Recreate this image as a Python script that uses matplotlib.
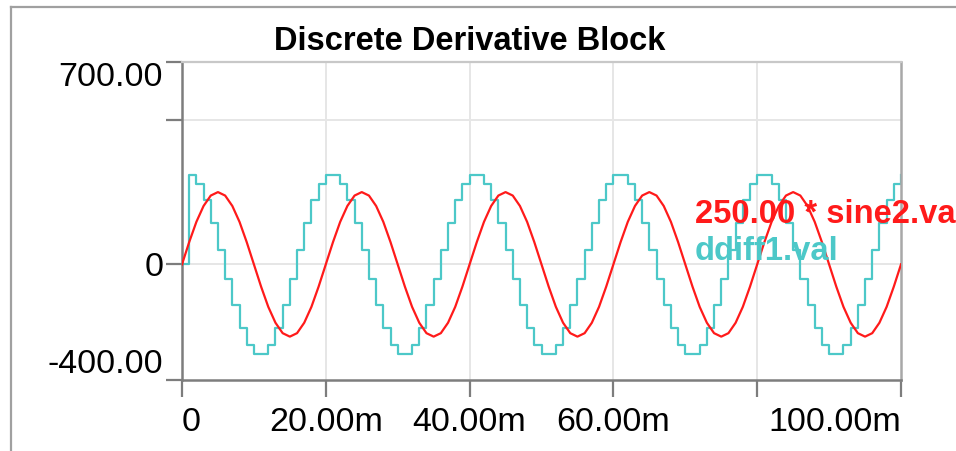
import numpy as np
import matplotlib
matplotlib.use("Agg")
import matplotlib.pyplot as plt
from matplotlib.lines import Line2D

plt.rcParams["font.family"] = ["Liberation Sans", "DejaVu Sans"]

# ---- data -------------------------------------------------------------
sample_ms = 1.0                 # simulation step, milliseconds
n_periods = 5                   # periods shown over 0..100 ms
# 250 * sine2 over one 20 ms period, one value per millisecond
sine_period = [0, 77, 147, 202, 238, 250, 238, 202, 147, 77,
               0, -77, -147, -202, -238, -250, -238, -202, -147, -77]
# ddiff1 step levels, held from t = 1 ms .. 20 ms of each period
ddiff_period = [309, 279, 221, 142, 49, -49, -142, -221, -279, -309,
                -309, -279, -221, -142, -49, 49, 142, 221, 279, 309]
ddiff_initial = 0

x_ticks = [0, 0.02, 0.04, 0.06, 0.08, 0.10]
x_labels = ["0", "20.00m", "40.00m", "60.00m", "", "100.00m"]
y_ticks = [-400, 0, 500, 700]
y_labels = ["-400.00", "0", "", "700.00"]
title = "Discrete Derivative Block"
label_sine = "250.00 * sine2.val"
label_ddiff = "ddiff1.val"

# ---- series assembly --------------------------------------------------
sine_vals = np.array(sine_period * n_periods + [sine_period[0]], dtype=float)
ddiff_vals = np.array([ddiff_initial] + ddiff_period * n_periods, dtype=float)
t = np.arange(len(sine_vals)) * sample_ms / 1000.0

RED = "#ff1a1a"
CYAN = "#4cc8c8"
AXIS = "#7d7d7d"
GRID = "#e6e6e6"

W, H = 956, 451
fig = plt.figure(figsize=(W / 100, H / 100), dpi=100)
fig.patch.set_facecolor("white")

left, right, top, bottom = 182, 901, 62, 380
ax = fig.add_axes([left / W, 1 - bottom / H, (right - left) / W, (bottom - top) / H])

ax.plot(t, sine_vals, color=RED, lw=1.6, zorder=3)
ax.plot(t, ddiff_vals, color=CYAN, lw=1.6, drawstyle="steps-post", zorder=2)

ax.set_xlim(0, 0.1)
ax.set_ylim(-400, 700)

# grid lines
for xv in x_ticks[1:-1]:
    ax.axvline(xv, color=GRID, lw=1.4, zorder=0)
for yv in [0, 500]:
    ax.axhline(yv, color=GRID, lw=1.4, zorder=0)

ax.spines["top"].set_color("#c8c8c8")
ax.spines["top"].set_linewidth(1.6)
ax.spines["right"].set_color("#a8a8a8")
ax.spines["right"].set_linewidth(1.8)
for s in ["left", "bottom"]:
    ax.spines[s].set_color(AXIS)
    ax.spines[s].set_linewidth(1.8)

ax.set_xticks(x_ticks, labels=x_labels)
ax.set_yticks(y_ticks, labels=y_labels)
ax.tick_params(axis="x", length=12.2, width=1.6, color=AXIS, pad=7,
               labelsize=24.5, direction="out")
ax.tick_params(axis="y", length=11.5, width=1.6, color=AXIS, pad=2,
               labelsize=24.5, direction="out")
xl = ax.get_xticklabels()
xl[0].set_horizontalalignment("left")
xl[-1].set_horizontalalignment("right")
yl = ax.get_yticklabels()
yl[0].set_verticalalignment("bottom")
yl[-1].set_verticalalignment("top")

# series labels
fig.text(695 / W, 1 - 223 / H, label_sine, color=RED, fontsize=23.6,
         fontweight="bold", va="baseline", ha="left")
fig.text(695 / W, 1 - 260 / H, label_ddiff, color=CYAN, fontsize=23.6,
         fontweight="bold", va="baseline", ha="left")

# title
fig.text(470 / W, 1 - 50 / H, title, fontsize=23.5, fontweight="bold",
         va="baseline", ha="center", color="black")

# outer frame
fig.add_artist(Line2D([11 / W, 11 / W], [0, 1 - 7 / H], transform=fig.transFigure,
                      color="#a0a0a0", lw=1.6))
fig.add_artist(Line2D([11 / W, 1], [1 - 7 / H, 1 - 7 / H], transform=fig.transFigure,
                      color="#a0a0a0", lw=1.6))

fig.savefig("out.png", dpi=100)
